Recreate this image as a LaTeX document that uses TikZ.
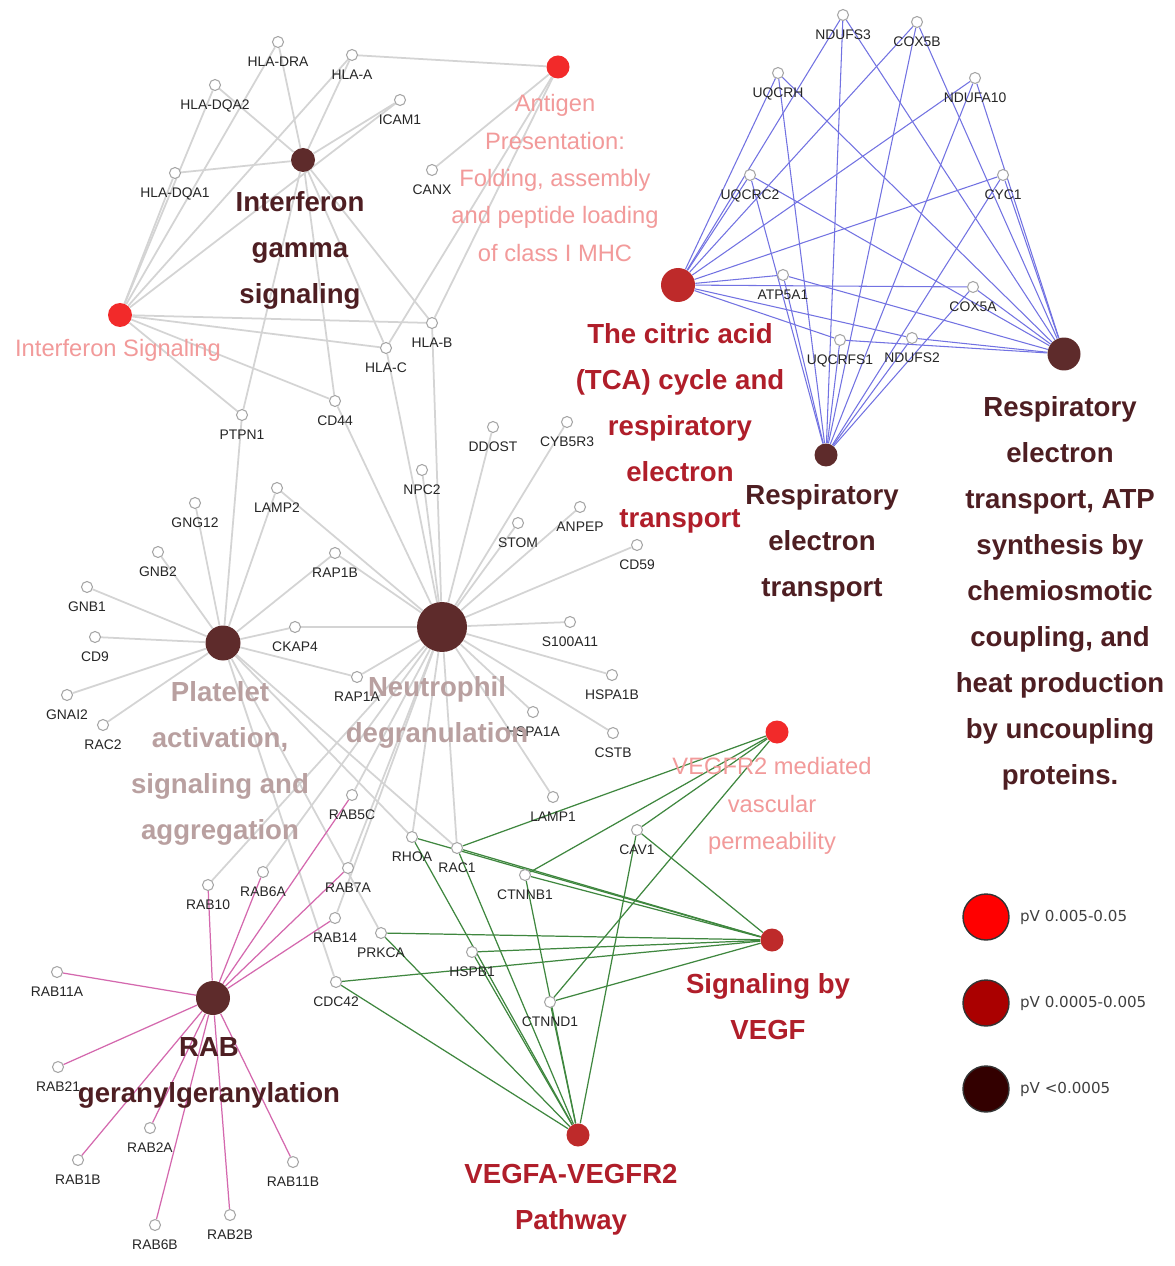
\documentclass[tikz,border=0pt]{standalone}
\usepackage{fontspec}
\setmainfont{Liberation Sans}
\newfontfamily\legendfont{DejaVu Sans}
\usetikzlibrary{backgrounds}
\definecolor{hubbrown}{HTML}{5E2B2B}
\definecolor{hubred}{HTML}{F22A2A}
\definecolor{hubcrimson}{HTML}{BE2A2A}
\definecolor{txtbrown}{HTML}{4E1E22}
\definecolor{txtred}{HTML}{B01E2A}
\definecolor{txtpink}{HTML}{F29A9A}
\definecolor{txtmauve}{HTML}{B9A0A0}
\definecolor{edgegrey}{HTML}{D4D4D4}
\definecolor{edgeblue}{HTML}{7272E2}
\definecolor{edgegreen}{HTML}{3F873F}
\definecolor{edgepink}{HTML}{D468AE}
\definecolor{pvhigh}{HTML}{FF0000}
\definecolor{pvmid}{HTML}{AA0000}
\definecolor{pvlow}{HTML}{330000}

\begin{document}
\begin{tikzpicture}[
    x=0.02cm, y=-0.02cm,
    glab_style/.style={font=\fontsize{7.9}{8}\selectfont, text=black!85, inner sep=0pt, yshift=-0.17cm},
    gene_style/.style={circle, draw=gray!70, fill=white, line width=0.6pt, inner sep=0pt, minimum size=0.22cm, label={[glab_style]below:#1}},
    hub_style/.style={circle, fill=#1, inner sep=0pt},
    big_style/.style={text=#1, font=\bfseries\fontsize{15.7}{26.2}\selectfont, align=center, inner sep=0pt},
    pink_style/.style={text=txtpink, font=\fontsize{13.5}{21.3}\selectfont, align=center, inner sep=0pt},
    edge_grey/.style={draw=edgegrey, line width=1pt},
    edge_blue/.style={draw=edgeblue, line width=0.6pt},
    edge_green/.style={draw=edgegreen, line width=0.7pt},
    edge_pink/.style={draw=edgepink, line width=0.7pt},
    legend_style/.style={circle, draw=black!80, line width=0.8pt, fill=#1, minimum size=0.92cm, inner sep=0pt}
]
    \useasboundingbox (0,0) rectangle (1174,1266);

    % --- Interferon / antigen genes ---
    \node[gene_style=HLA-DRA] (hladra) at (278,42) {};
    \node[gene_style=HLA-A] (hlaa) at (352,55) {};
    \node[gene_style=HLA-DQA2] (hladqa2) at (215,85) {};
    \node[gene_style=ICAM1] (icam1) at (400,100) {};
    \node[gene_style=HLA-DQA1] (hladqa1) at (175,173) {};
    \node[gene_style=CANX] (canx) at (432,170) {};
    \node[gene_style=HLA-B] (hlab) at (432,323) {};
    \node[gene_style=HLA-C] (hlac) at (386,348) {};
    \node[gene_style=CD44] (cd44) at (335,401) {};
    \node[gene_style=PTPN1] (ptpn1) at (242,415) {};

    % --- Platelet genes ---
    \node[gene_style=LAMP2] (lamp2) at (277,488) {};
    \node[gene_style=GNG12] (gng12) at (195,503) {};
    \node[gene_style=GNB2] (gnb2) at (158,552) {};
    \node[gene_style=RAP1B] (rap1b) at (335,553) {};
    \node[gene_style=GNB1] (gnb1) at (87,587) {};
    \node[gene_style=CD9] (cd9) at (95,637) {};
    \node[gene_style=CKAP4] (ckap4) at (295,627) {};
    \node[gene_style=GNAI2] (gnai2) at (67,695) {};
    \node[gene_style=RAC2] (rac2) at (103,725) {};
    \node[gene_style=RAP1A] (rap1a) at (357,677) {};

    % --- Neutrophil genes ---
    \node[gene_style=DDOST] (ddost) at (493,427) {};
    \node[gene_style=CYB5R3] (cyb5r3) at (567,422) {};
    \node[gene_style=NPC2] (npc2) at (422,470) {};
    \node[gene_style=STOM] (stom) at (518,523) {};
    \node[gene_style=ANPEP] (anpep) at (580,507) {};
    \node[gene_style=CD59] (cd59) at (637,545) {};
    \node[gene_style=S100A11] (s100a11) at (570,622) {};
    \node[gene_style=HSPA1B] (hspa1b) at (612,675) {};
    \node[gene_style=HSPA1A] (hspa1a) at (533,712) {};
    \node[gene_style=CSTB] (cstb) at (613,733) {};
    \node[gene_style=LAMP1] (lamp1) at (553,797) {};

    % --- VEGF and RAB genes ---
    \node[gene_style=RAB5C] (rab5c) at (352,795) {};
    \node[gene_style=RHOA] (rhoa) at (412,837) {};
    \node[gene_style=RAC1] (rac1) at (457,848) {};
    \node[gene_style=CAV1] (cav1) at (637,830) {};
    \node[gene_style=CTNNB1] (ctnnb1) at (525,875) {};
    \node[gene_style=RAB7A] (rab7a) at (348,868) {};
    \node[gene_style=RAB14] (rab14) at (335,918) {};
    \node[gene_style=PRKCA] (prkca) at (381,933) {};
    \node[gene_style=HSPB1] (hspb1) at (472,952) {};
    \node[gene_style=CDC42] (cdc42) at (336,982) {};
    \node[gene_style=CTNND1] (ctnnd1) at (550,1002) {};
    \node[gene_style=RAB10] (rab10) at (208,885) {};
    \node[gene_style=RAB6A] (rab6a) at (263,872) {};
    \node[gene_style=RAB11A] (rab11a) at (57,972) {};
    \node[gene_style=RAB21] (rab21) at (58,1067) {};
    \node[gene_style=RAB2A] (rab2a) at (150,1128) {};
    \node[gene_style=RAB1B] (rab1b) at (78,1160) {};
    \node[gene_style=RAB11B] (rab11b) at (293,1162) {};
    \node[gene_style=RAB2B] (rab2b) at (230,1215) {};
    \node[gene_style=RAB6B] (rab6b) at (155,1225) {};

    % --- Respiratory chain genes ---
    \node[gene_style=NDUFS3] (ndufs3) at (843,15) {};
    \node[gene_style=COX5B] (cox5b) at (917,22) {};
    \node[gene_style=UQCRH] (uqcrh) at (778,73) {};
    \node[gene_style=NDUFA10] (ndufa10) at (975,78) {};
    \node[gene_style=UQCRC2] (uqcrc2) at (750,175) {};
    \node[gene_style=CYC1] (cyc1) at (1003,175) {};
    \node[gene_style=ATP5A1] (atp5a1) at (783,275) {};
    \node[gene_style=COX5A] (cox5a) at (973,287) {};
    \node[gene_style=UQCRFS1] (uqcrfs1) at (840,340) {};
    \node[gene_style=NDUFS2] (ndufs2) at (912,338) {};

    % --- Term hubs ---
    \node[hub_style=hubbrown, minimum size=0.48cm] (ifng_hub) at (303,160) {};
    \node[hub_style=hubred, minimum size=0.46cm] (antigen_hub) at (558,67) {};
    \node[hub_style=hubred, minimum size=0.48cm] (ifns_hub) at (120,315) {};
    \node[hub_style=hubcrimson, minimum size=0.68cm] (tca_hub) at (678,285) {};
    \node[hub_style=hubbrown, minimum size=0.46cm] (ret_hub) at (826,455) {};
    \node[hub_style=hubbrown, minimum size=0.66cm] (retatp_hub) at (1064,354) {};
    \node[hub_style=hubbrown, minimum size=0.70cm] (platelet_hub) at (223,643) {};
    \node[hub_style=hubbrown, minimum size=1.0cm] (neutro_hub) at (442,627) {};
    \node[hub_style=hubred, minimum size=0.46cm] (vegfr2_hub) at (777,732) {};
    \node[hub_style=hubcrimson, minimum size=0.46cm] (sigvegf_hub) at (772,940) {};
    \node[hub_style=hubcrimson, minimum size=0.46cm] (vegfa_hub) at (578,1135) {};
    \node[hub_style=hubbrown, minimum size=0.68cm] (rab_hub) at (213,998) {};

    % --- Term labels ---
    \node[big_style=txtbrown] (ifng_lab) at (300,250) {Interferon\\gamma\\signaling};
    \node[pink_style] (antigen_lab) at (555,178) {Antigen\\Presentation:\\Folding, assembly\\and peptide loading\\of class I MHC};
    \node[pink_style] (ifns_lab) at (118,350) {Interferon Signaling};
    \node[big_style=txtred] (tca_lab) at (680,428) {The citric acid\\(TCA) cycle and\\respiratory\\electron\\transport};
    \node[big_style=txtbrown] (ret_lab) at (822,543) {Respiratory\\electron\\transport};
    \node[big_style=txtbrown] (retatp_lab) at (1060,593) {Respiratory\\electron\\transport, ATP\\synthesis by\\chemiosmotic\\coupling, and\\heat production\\by uncoupling\\proteins.};
    \node[big_style=txtmauve] (platelet_lab) at (220,763) {Platelet\\activation,\\signaling and\\aggregation};
    \node[big_style=txtmauve] (neutro_lab) at (437,712) {Neutrophil\\degranulation};
    \node[pink_style] (vegfr2_lab) at (772,806) {VEGFR2 mediated\\vascular\\permeability};
    \node[big_style=txtred] (sigvegf_lab) at (768,1007) {Signaling by\\VEGF};
    \node[big_style=txtred] (vegfa_lab) at (571,1200) {VEGFA-VEGFR2\\Pathway};
    \node[big_style=txtbrown] (rab_lab) at (209,1073) {RAB\\geranylgeranylation};

    % --- Legend ---
    \node[legend_style=pvhigh] (pv_high) at (986,917) {};
    \node[legend_style=pvmid] (pv_mid) at (986,1003) {};
    \node[legend_style=pvlow] (pv_low) at (986,1089) {};
    \node[right=0.2cm, font=\legendfont\fontsize{8.6}{10}\selectfont, text=black!75, inner sep=0pt] (pv_high_lab) at (pv_high.east) {pV 0.005-0.05};
    \node[right=0.2cm, font=\legendfont\fontsize{8.6}{10}\selectfont, text=black!75, inner sep=0pt] (pv_mid_lab) at (pv_mid.east) {pV 0.0005-0.005};
    \node[right=0.2cm, font=\legendfont\fontsize{8.6}{10}\selectfont, text=black!75, inner sep=0pt] (pv_low_lab) at (pv_low.east) {pV <0.0005};

    % --- Edges (behind nodes) ---
    \begin{scope}[on background layer]
        \fill[white] (0,0) rectangle (1174,1266);

        % Interferon and antigen terms
        \draw[edge_grey] (ifng_hub) edge (hladra) edge (hlaa) edge (hladqa2) edge (icam1) edge (hladqa1)
            edge (hlab) edge (hlac) edge (cd44) edge (ptpn1);
        \draw[edge_grey] (ifns_hub) edge (hladra) edge (hlaa) edge (hladqa2) edge (icam1) edge (hladqa1)
            edge (hlab) edge (hlac) edge (cd44) edge (ptpn1);
        \draw[edge_grey] (antigen_hub) edge (hlaa) edge (canx) edge (hlab) edge (hlac);

        % Neutrophil degranulation
        \draw[edge_grey] (neutro_hub) edge (cd44) edge (hlab) edge (hlac) edge (npc2) edge (ddost)
            edge (cyb5r3) edge (stom) edge (anpep) edge (cd59) edge (s100a11) edge (hspa1b)
            edge (hspa1a) edge (cstb) edge (lamp1) edge (lamp2) edge (rap1b) edge (ckap4)
            edge (rap1a) edge (rab5c) edge (rab7a) edge (rab14) edge (rab10) edge (rab6a)
            edge (rhoa) edge (rac1);

        % Platelet activation
        \draw[edge_grey] (platelet_hub) edge (ptpn1) edge (lamp2) edge (gng12) edge (gnb2) edge (gnb1)
            edge (cd9) edge (gnai2) edge (rac2) edge (rap1b) edge (ckap4) edge (rap1a)
            edge (rhoa) edge (rac1) edge (prkca) edge (cdc42);

        % Respiratory chain
        \draw[edge_blue] (tca_hub) edge (ndufs3) edge (cox5b) edge (uqcrh) edge (ndufa10) edge (uqcrc2)
            edge (cyc1) edge (atp5a1) edge (cox5a) edge (uqcrfs1) edge (ndufs2);
        \draw[edge_blue] (ret_hub) edge (ndufs3) edge (cox5b) edge (uqcrh) edge (ndufa10) edge (uqcrc2)
            edge (cyc1) edge (atp5a1) edge (cox5a) edge (uqcrfs1) edge (ndufs2);
        \draw[edge_blue] (retatp_hub) edge (ndufs3) edge (cox5b) edge (uqcrh) edge (ndufa10) edge (uqcrc2)
            edge (cyc1) edge (atp5a1) edge (cox5a) edge (uqcrfs1) edge (ndufs2);

        % VEGF terms
        \draw[edge_green] (vegfr2_hub) edge (rac1) edge (ctnnb1) edge (cav1) edge (ctnnd1);
        \draw[edge_green] (sigvegf_hub) edge (rhoa) edge (rac1) edge (ctnnb1) edge (cav1) edge (prkca)
            edge (hspb1) edge (cdc42) edge (ctnnd1);
        \draw[edge_green] (vegfa_hub) edge (rhoa) edge (rac1) edge (ctnnb1) edge (cav1) edge (prkca)
            edge (hspb1) edge (cdc42) edge (ctnnd1);

        % RAB geranylgeranylation
        \draw[edge_pink] (rab_hub) edge (rab10) edge (rab6a) edge (rab5c) edge (rab7a) edge (rab14)
            edge (rab11a) edge (rab21) edge (rab2a) edge (rab1b) edge (rab6b) edge (rab2b) edge (rab11b);
    \end{scope}

\end{tikzpicture}
\end{document}
